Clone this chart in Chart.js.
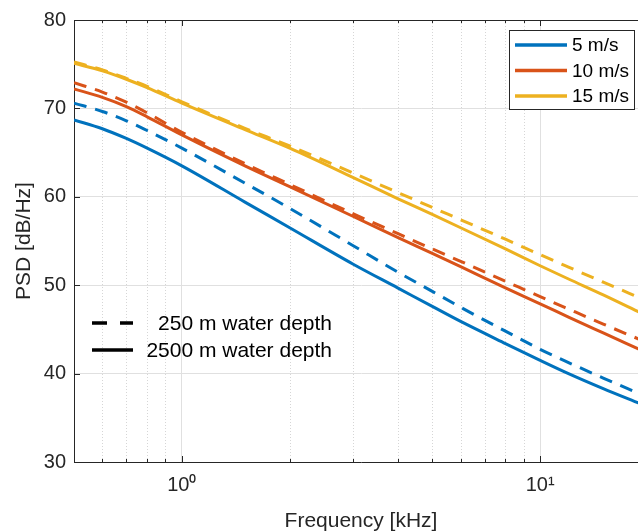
<!DOCTYPE html>
<html><head><meta charset="utf-8">
<script src="https://cdn.jsdelivr.net/npm/chart.js@4/dist/chart.umd.min.js"></script>
<style>
html,body{margin:0;padding:0;background:#fff;overflow:hidden;width:638px;height:532px}
#wrap{position:absolute;left:0;top:0;width:650px;height:532px}
</style>
</head><body>
<div id="wrap"><canvas id="c" width="650" height="532"></canvas></div>
<script>
// ---- data ----
const freqKHz      = [0.5, 0.6, 0.7, 0.8, 1.0, 1.5, 2.0, 3.0, 4.0, 5.0, 6.0, 8.0, 10.0, 12.0, 15.0, 19.0];
const wind5_2500   = [68.7, 67.7, 66.6, 65.5, 63.5, 59.4, 56.5, 52.4, 49.7, 47.6, 45.9, 43.4, 41.5, 40.0, 38.3, 36.6];
const wind5_250    = [70.6, 69.65, 68.6, 67.5, 65.5, 61.55, 58.7, 54.5, 51.5, 49.3, 47.5, 44.8, 42.75, 41.25, 39.5, 37.7];
const wind10_2500  = [72.2, 71.25, 70.2, 69.05, 67.0, 63.5, 61.15, 57.8, 55.4, 53.6, 52.1, 49.7, 47.9, 46.4, 44.6, 42.7];
const wind10_250   = [72.9, 71.85, 70.7, 69.5, 67.3, 63.75, 61.4, 58.1, 55.85, 54.1, 52.7, 50.45, 48.7, 47.3, 45.6, 43.85];
const wind15_2500  = [75.1, 74.25, 73.3, 72.35, 70.6, 67.6, 65.5, 62.2, 59.8, 58.0, 56.5, 54.1, 52.2, 50.7, 48.9, 46.9];
const wind15_250   = [75.25, 74.35, 73.4, 72.5, 70.75, 67.75, 65.75, 62.7, 60.5, 58.8, 57.4, 55.2, 53.45, 52.05, 50.35, 48.55];
const speedLabels  = ['5 m/s', '10 m/s', '15 m/s'];
const depthLabels  = ['250 m water depth', '2500 m water depth'];
const yTickValues  = [30, 40, 50, 60, 70, 80];
const xTickValues  = [1, 10];
const xTickLabels  = ['10\u2070', '10\u00B9'];
const xMinorValues = [0.6, 0.7, 0.8, 0.9, 2, 3, 4, 5, 6, 7, 8, 9];

// ---- styles ----
const FONT = '"Liberation Sans", Arial, Helvetica, sans-serif';
const TXT = '#262626';
const C_BLUE = '#0072BD', C_ORANGE = '#D95319', C_YELLOW = '#EDB120';
const DASH = [13, 9];

const pts = arr => freqKHz.map((f, i) => ({x: f, y: arr[i]}));
function ds(label, arr, color, dashed) {
  return {
    label, data: pts(arr), borderColor: color, backgroundColor: color,
    borderWidth: 3, pointRadius: 0, fill: false, borderCapStyle: 'butt',
    cubicInterpolationMode: 'monotone', borderDash: dashed ? DASH : []
  };
}

const axesDecor = {
  id: 'axesDecor',
  beforeDatasetsDraw(chart) {
    const {ctx, chartArea: a, scales: {x}} = chart;
    ctx.save();
    ctx.strokeStyle = '#d6d6d6';
    ctx.lineWidth = 1;
    ctx.setLineDash([1, 2]);
    xMinorValues.forEach(v => {
      const px = Math.round(x.getPixelForValue(v)) + 0.5;
      if (px <= a.left + 1 || px >= a.right) return;
      ctx.beginPath(); ctx.moveTo(px, a.top); ctx.lineTo(px, a.bottom); ctx.stroke();
    });
    ctx.restore();
  },
  afterDatasetsDraw(chart) {
    const {ctx, chartArea: a, scales: {x, y}} = chart;
    ctx.save();
    ctx.strokeStyle = TXT;
    ctx.lineWidth = 1;
    const top = Math.round(a.top) + 0.5;
    ctx.beginPath(); ctx.moveTo(a.left, top); ctx.lineTo(a.right, top); ctx.stroke();
    const drawX = (v, len) => {
      const px = Math.round(x.getPixelForValue(v)) + 0.5;
      if (px <= a.left + 1 || px >= a.right) return;
      ctx.beginPath();
      ctx.moveTo(px, a.bottom); ctx.lineTo(px, a.bottom - len);
      ctx.moveTo(px, a.top); ctx.lineTo(px, a.top + len);
      ctx.stroke();
    };
    xMinorValues.forEach(v => drawX(v, 3));
    xTickValues.forEach(v => drawX(v, 6));
    yTickValues.forEach(v => {
      const py = Math.round(y.getPixelForValue(v)) + 0.5;
      ctx.beginPath(); ctx.moveTo(a.left, py); ctx.lineTo(a.left + 6, py); ctx.stroke();
    });
    ctx.restore();
  },
  afterDraw(chart) {
    const ctx = chart.ctx;
    ctx.save();
    ctx.fillStyle = '#fff';
    ctx.fillRect(509.5, 30.5, 125, 79);
    ctx.strokeStyle = TXT; ctx.lineWidth = 1;
    ctx.strokeRect(509.5, 30.5, 125, 79);
    const cols = [C_BLUE, C_ORANGE, C_YELLOW];
    const rows = [45, 70.5, 96];
    ctx.font = '19px ' + FONT;
    ctx.textBaseline = 'middle';
    ctx.textAlign = 'left';
    speedLabels.forEach((t, i) => {
      ctx.strokeStyle = cols[i]; ctx.lineWidth = 3.5; ctx.setLineDash([]);
      ctx.beginPath(); ctx.moveTo(515, rows[i]); ctx.lineTo(567, rows[i]); ctx.stroke();
      ctx.fillStyle = '#000';
      ctx.fillText(t, 572, rows[i] + 1);
    });
    const drows = [323, 350];
    ctx.font = '21px ' + FONT;
    ctx.textAlign = 'right';
    depthLabels.forEach((t, i) => {
      ctx.strokeStyle = '#000'; ctx.lineWidth = 3.5; ctx.lineCap = 'butt';
      ctx.setLineDash(i === 0 ? [15, 13] : []);
      ctx.beginPath(); ctx.moveTo(92, drows[i]); ctx.lineTo(133, drows[i]); ctx.stroke();
      ctx.fillStyle = '#000';
      ctx.fillText(t, 332, drows[i] + 1);
    });
    ctx.restore();
  }
};

new Chart(document.getElementById('c'), {
  type: 'line',
  data: {
    datasets: [
      ds('5 m/s, 2500 m', wind5_2500, C_BLUE, false),
      ds('10 m/s, 2500 m', wind10_2500, C_ORANGE, false),
      ds('15 m/s, 2500 m', wind15_2500, C_YELLOW, false),
      ds('5 m/s, 250 m', wind5_250, C_BLUE, true),
      ds('10 m/s, 250 m', wind10_250, C_ORANGE, true),
      ds('15 m/s, 250 m', wind15_250, C_YELLOW, true)
    ]
  },
  options: {
    responsive: false,
    devicePixelRatio: 1,
    animation: false,
    layout: {padding: {top: 17, right: 2, left: 0, bottom: 0}},
    plugins: {legend: {display: false}, tooltip: {enabled: false}},
    scales: {
      x: {
        type: 'logarithmic', min: 0.5, max: 20,
        afterBuildTicks: s => { s.ticks = xTickValues.map(v => ({value: v})); },
        afterFit: s => { s.height = 70; },
        ticks: {
          autoSkip: false, maxRotation: 0, padding: 11, color: TXT,
          font: {size: 20, family: FONT},
          callback: v => { const i = xTickValues.indexOf(v); return i >= 0 ? xTickLabels[i] : ''; }
        },
        grid: {color: '#e0e0e0', lineWidth: 1, drawTicks: false},
        border: {color: TXT, width: 1},
        title: {display: true, text: 'Frequency [kHz]', color: TXT,
                font: {size: 21, family: FONT, lineHeight: 1}, padding: {top: 0, bottom: 0}}
      },
      y: {
        min: 30, max: 80,
        afterBuildTicks: s => { s.ticks = yTickValues.map(v => ({value: v})); },
        afterFit: s => { s.width = 74; },
        ticks: {padding: 8, color: TXT, font: {size: 20, family: FONT}},
        grid: {color: '#e0e0e0', lineWidth: 1, drawTicks: false},
        border: {color: TXT, width: 1},
        title: {display: true, text: 'PSD [dB/Hz]', color: TXT,
                font: {size: 21, family: FONT, lineHeight: 1}, padding: {top: 14, bottom: 0}}
      }
    }
  },
  plugins: [axesDecor]
});
</script>
</body></html>
